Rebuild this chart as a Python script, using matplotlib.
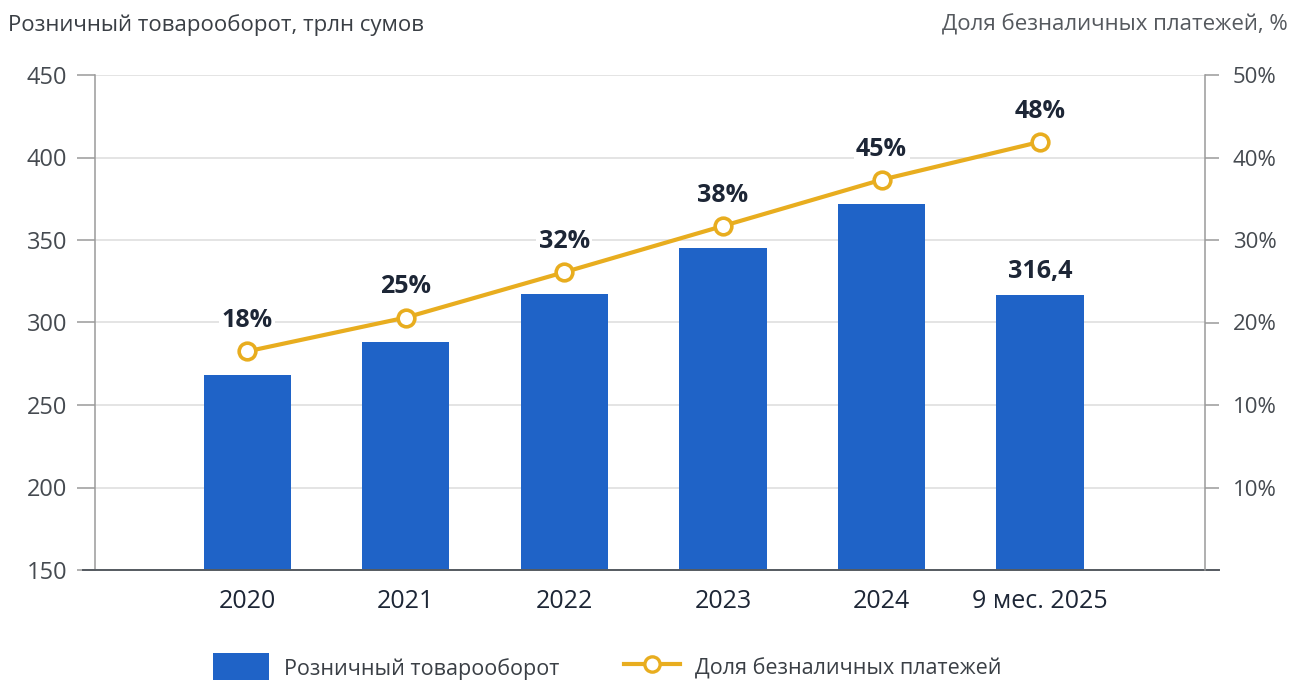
import matplotlib
matplotlib.use("Agg")
import matplotlib.pyplot as plt
from matplotlib.patches import Patch
from matplotlib.lines import Line2D

plt.rcParams['font.family'] = ['Open Sans', 'DejaVu Sans']

# ---- data ----
categories = ["2020", "2021", "2022", "2023", "2024", "9 мес. 2025"]
turnover = [268, 288, 317, 345, 372, 316.4]          # трлн сумов (left axis)
share_plot = [16.5, 20.6, 26.1, 31.7, 37.3, 41.9]    # position on right axis as drawn
share_labels = ["18%", "25%", "32%", "38%", "45%", "48%"]
left_ticks = [150, 200, 250, 300, 350, 400, 450]
right_ticks = [50, 40, 30, 20, 10, 0]
right_tick_labels = ["50%", "40%", "30%", "20%", "10%", "10%"]
bar_label_text = "316,4"

BLUE = "#1f63c7"
GOLD = "#e8ad1f"
NAVY = "#1d2636"
GRAY_TXT = "#454a50"

fig = plt.figure(figsize=(12.92, 6.8), dpi=100)
ax = fig.add_axes([95/1292, 110/680, 1110/1292, 495/680])
x = list(range(len(categories)))

ax.set_xlim(-0.96, 6.04)
ax.set_ylim(150, 450)
ax.bar(x, turnover, width=0.55, color=BLUE, zorder=2)
ax.set_yticks(left_ticks)
ax.set_yticklabels([str(t) for t in left_ticks])
ax.yaxis.grid(True, color="#dcdcdc", linewidth=1.1, zorder=0)
ax.set_axisbelow(True)
ax.tick_params(axis='y', length=13, width=1.1, color="#9a9a9a", pad=7,
               labelsize=17, labelcolor=GRAY_TXT)
ax.set_xticks(x)
ax.set_xticklabels(categories)
ax.tick_params(axis='x', length=0, pad=14, labelsize=18, labelcolor=NAVY)
for s in ['top', 'right', 'bottom']:
    ax.spines[s].set_visible(False)
ax.spines['left'].set_color("#9a9a9a")
ax.spines['left'].set_linewidth(1.1)
# bottom baseline extending slightly past both axes
ax.plot([-0.011, 1.0126], [0, 0], transform=ax.transAxes, color="#555a60",
        linewidth=1.4, clip_on=False, zorder=3)

ax.annotate(bar_label_text, (x[-1], turnover[-1]), xytext=(0, 8),
            textcoords='offset points', ha='center', va='bottom',
            fontsize=18, fontweight='bold', color=NAVY)

ax2 = ax.twinx()
ax2.set_ylim(-10, 50)
ax2.set_yticks(right_ticks)
ax2.set_yticklabels(right_tick_labels)
ax2.tick_params(axis='y', length=10, width=1.1, color="#9a9a9a", pad=10,
                labelsize=16, labelcolor=GRAY_TXT)
for s in ['top', 'left', 'bottom']:
    ax2.spines[s].set_visible(False)
ax2.spines['right'].set_color("#9a9a9a")
ax2.spines['right'].set_linewidth(1.1)
ax2.plot(x, share_plot, color=GOLD, linewidth=3, marker='o', markersize=12,
         markerfacecolor='white', markeredgecolor=GOLD, markeredgewidth=2.6, zorder=4)
for xi, yi, lab in zip(x, share_plot, share_labels):
    ax2.annotate(lab, (xi, yi), xytext=(0, 13), textcoords='offset points',
                 ha='center', va='bottom', fontsize=18, fontweight='bold', color=NAVY,
                 bbox=dict(boxstyle='square,pad=0.1', fc='white', ec='none'))

fig.text(8/1292, 1 - 25/680, "Розничный товарооборот, трлн сумов", ha='left',
         va='center', fontsize=16, color="#3a3f45")
fig.text(1288/1292, 1 - 25/680, "Доля безналичных платежей, %", ha='right',
         va='center', fontsize=16, color="#55595e")

handles = [Patch(facecolor=BLUE, edgecolor='none'),
           Line2D([0], [0], color=GOLD, linewidth=3, marker='o', markersize=11,
                  markerfacecolor='white', markeredgecolor=GOLD, markeredgewidth=2.4)]
fig.legend(handles, ["Розничный товарооборот", "Доля безналичных платежей"],
           loc='center', bbox_to_anchor=(607/1292, 12/680), ncol=2, frameon=False,
           fontsize=15.5, handlelength=2.6, handleheight=1.7, handletextpad=0.7,
           columnspacing=3.0, labelcolor="#3a3f45")

fig.savefig("out.png", dpi=100)
